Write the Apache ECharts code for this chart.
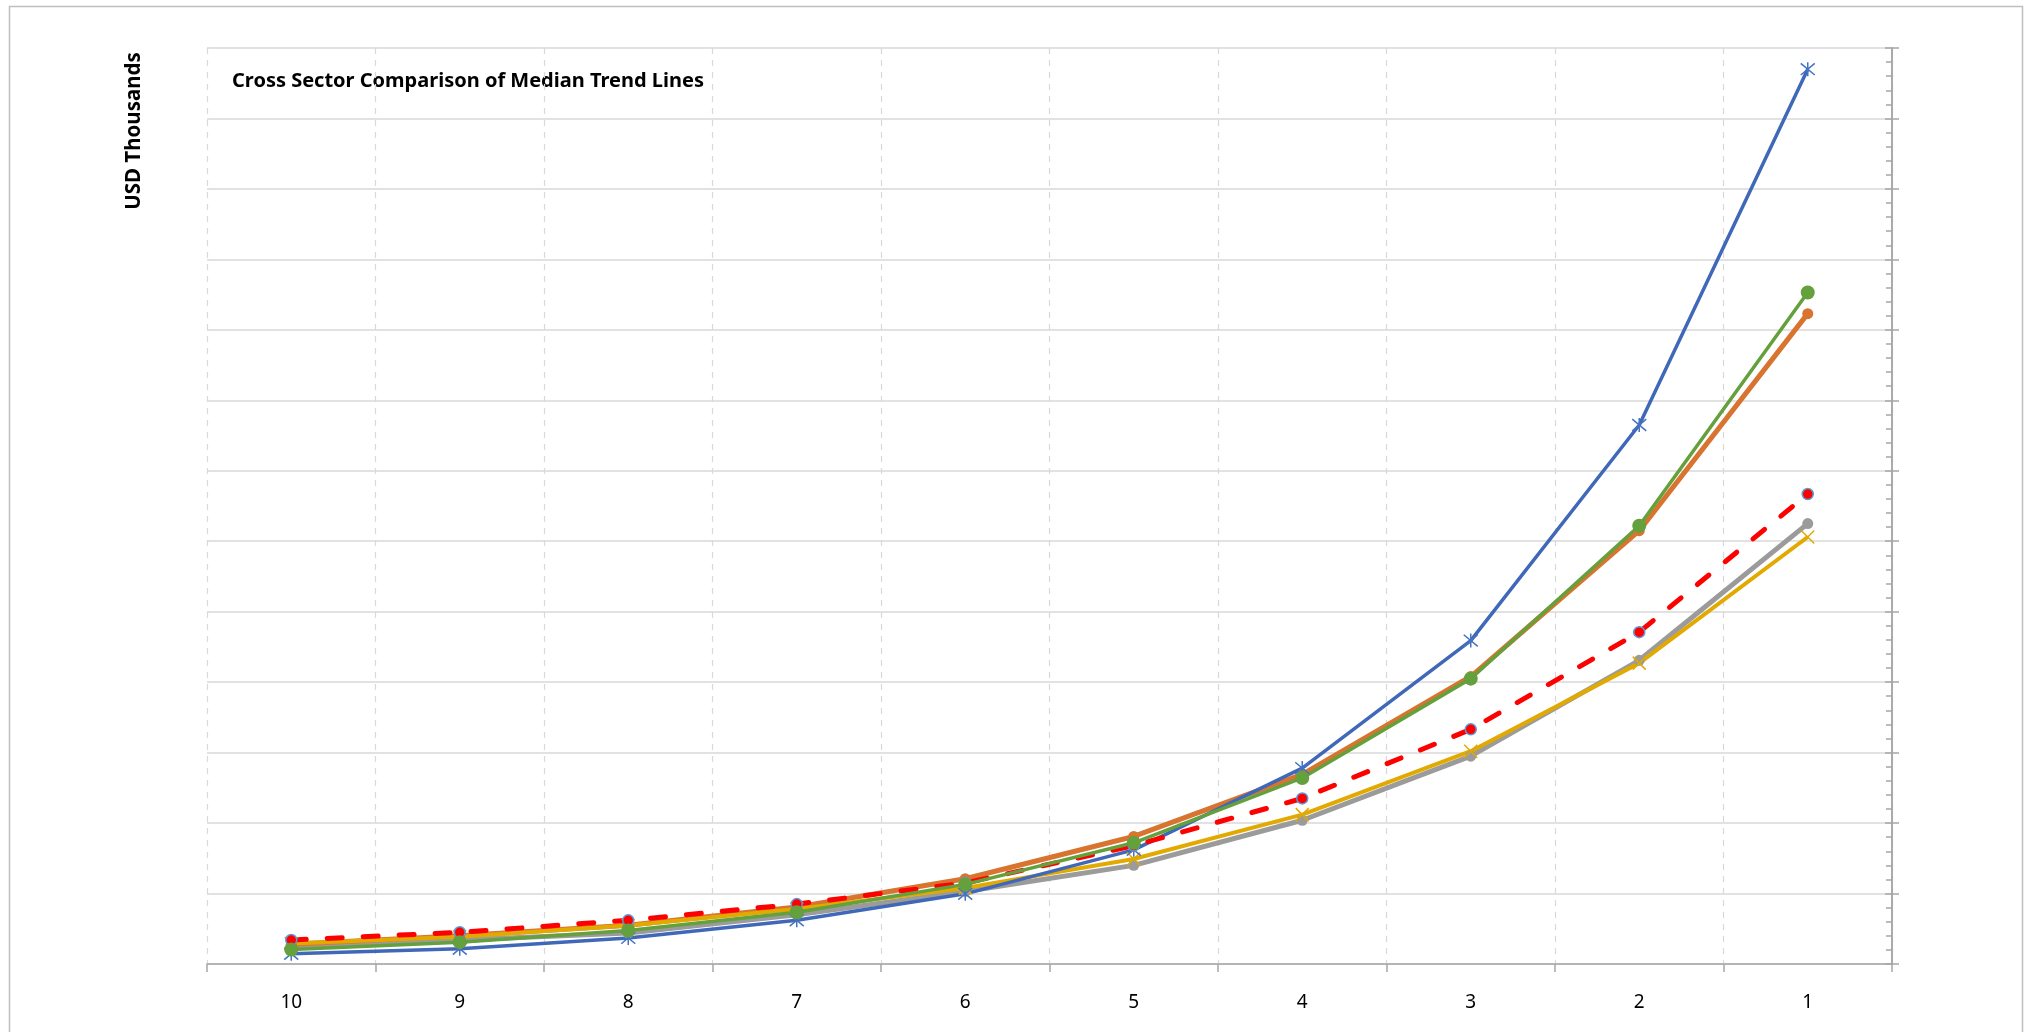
<!DOCTYPE html>
<html>
<head>
<meta charset="utf-8">
<script src="https://cdn.jsdelivr.net/npm/echarts@6/dist/echarts.min.js"></script>
<style>
html,body{margin:0;padding:0;background:#fff;}
#chart{width:2030px;height:1032px;}
</style>
</head>
<body>
<div id="chart"></div>
<script>
// ---- data ----
const categories = ['10','9','8','7','6','5','4','3','2','1'];
const seriesBlue   = [1.45, 2.16, 3.7, 6.2, 9.96, 16.2, 27.8, 45.9, 76.5, 127.0];
const seriesOrange = [2.8, 4.0, 5.5, 8.1, 12.1, 18.1, 26.9, 40.8, 61.5, 92.3];
const seriesGray   = [2.3, 3.4, 4.4, 7.0, 10.3, 14.0, 20.4, 29.5, 43.1, 62.5];
const seriesYellow = [2.9, 3.86, 5.46, 7.8, 10.8, 14.9, 21.2, 30.2, 42.7, 60.6];
const seriesGreen  = [2.06, 3.1, 4.75, 7.35, 11.3, 17.2, 26.4, 40.5, 62.2, 95.3];
const seriesMedian = [3.4, 4.5, 6.2, 8.5, 11.5, 16.8, 23.5, 33.3, 47.1, 66.7];
const chartTitle = 'Cross Sector Comparison of Median Trend Lines';
const yAxisTitle = 'USD Thousands';

const FONT = 'Noto Sans';
const asterisk = 'path://M0,0L10,10M10,0L0,10M5,-1L5,11';
const cross = 'path://M0,0L10,10M10,0L0,10';

const chart = echarts.init(document.getElementById('chart'), null, {renderer: 'canvas'});

const yBase = {
  type: 'value', min: 0, max: 130, interval: 10, position: 'right',
  axisLabel: {show: false},
  axisLine: {show: true, lineStyle: {color: '#A6A6A6', width: 1.5}}
};

chart.setOption({
  animation: false,
  backgroundColor: '#fff',
  grid: {left: 207, right: 138, top: 48, bottom: 68},
  graphic: [
    {type: 'rect', shape: {x: 9.5, y: 6.5, width: 2013, height: 1040},
     style: {fill: 'none', stroke: '#BFBFBF', lineWidth: 1.5}, silent: true, z: -1},
    {type: 'text', x: 232, y: 81,
     style: {text: chartTitle, fontFamily: FONT, fontWeight: 'bold', fontSize: 20,
             fill: '#000', textAlign: 'left', textVerticalAlign: 'middle'}},
    {type: 'text', x: 134, y: 131, rotation: Math.PI / 2,
     style: {text: yAxisTitle, fontFamily: FONT, fontWeight: 'bold', fontSize: 20.5,
             fill: '#000', textAlign: 'center', textVerticalAlign: 'middle'}}
  ],
  xAxis: {
    type: 'category', data: categories, boundaryGap: true,
    axisLine: {lineStyle: {color: '#A6A6A6', width: 1.5}},
    axisTick: {show: true, alignWithLabel: false, length: 8, lineStyle: {color: '#A6A6A6', width: 1.5}},
    axisLabel: {fontFamily: FONT, fontSize: 19, color: '#000', margin: 29},
    splitLine: {show: true, lineStyle: {color: '#D9D9D9', type: [6, 6], width: 1.2}}
  },
  yAxis: [
    Object.assign({}, yBase, {
      axisTick: {show: true, inside: true, length: 7, lineStyle: {color: '#A6A6A6', width: 1.5}},
      minorTick: {show: true, splitNumber: 5, length: 6, lineStyle: {color: '#A6A6A6', width: 1.5}},
      splitLine: {show: true, lineStyle: {color: '#D9D9D9', width: 1.5}}
    }),
    Object.assign({}, yBase, {
      axisTick: {show: true, inside: false, length: 7, lineStyle: {color: '#A6A6A6', width: 1.5}},
      splitLine: {show: false}
    })
  ],
  series: [
    {name: 'Sector A', type: 'line', data: seriesGray, showAllSymbol: true,
     symbol: 'circle', symbolSize: 11,
     lineStyle: {color: '#9B9B9B', width: 5}, itemStyle: {color: '#9B9B9B'}},
    {name: 'Sector B', type: 'line', data: seriesOrange, showAllSymbol: true,
     symbol: 'circle', symbolSize: 11,
     lineStyle: {color: '#D8742F', width: 5}, itemStyle: {color: '#D8742F'}},
    {name: 'Sector C', type: 'line', data: seriesYellow, showAllSymbol: true,
     symbol: cross, symbolSize: 13,
     lineStyle: {color: '#E2AA00', width: 4},
     itemStyle: {color: 'rgba(0,0,0,0)', borderColor: '#E2AA00', borderWidth: 1.5}},
    {name: 'Sector D', type: 'line', data: seriesBlue, showAllSymbol: true,
     symbol: asterisk, symbolSize: 14,
     lineStyle: {color: '#4068B8', width: 3.5},
     itemStyle: {color: 'rgba(0,0,0,0)', borderColor: '#4472C4', borderWidth: 1.5}},
    {name: 'Median', type: 'line', data: seriesMedian, showAllSymbol: true,
     symbol: 'circle', symbolSize: 11,
     lineStyle: {color: '#FF0000', width: 5, type: [15, 21], cap: 'round'},
     itemStyle: {color: '#FF0000', borderColor: '#5B9BD5', borderWidth: 1.5}},
    {name: 'Sector E', type: 'line', data: seriesGreen, showAllSymbol: true,
     symbol: 'circle', symbolSize: 14,
     lineStyle: {color: '#64A03C', width: 3.5}, itemStyle: {color: '#64A03C'}}
  ]
});
</script>
</body>
</html>
